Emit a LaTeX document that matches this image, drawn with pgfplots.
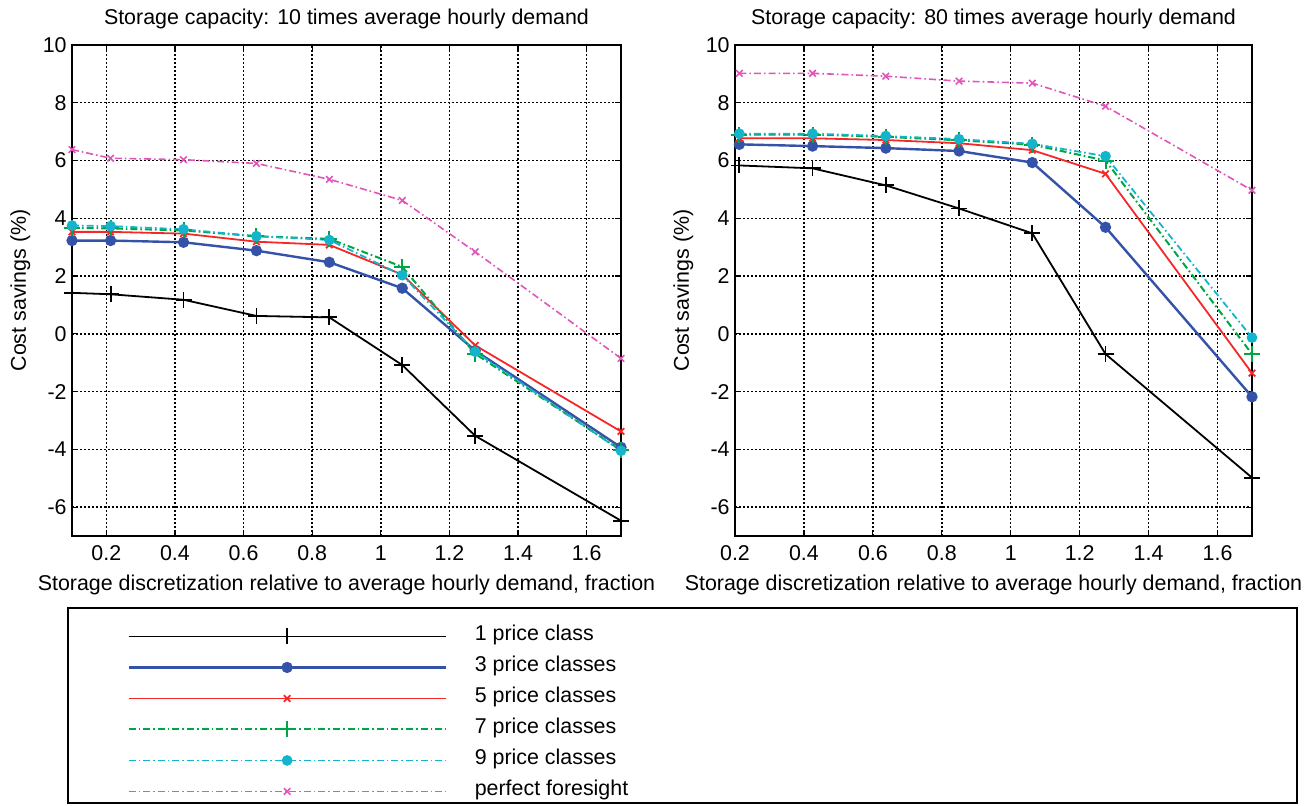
\documentclass[border=0pt]{standalone}
\usepackage{fontspec}
\setmainfont{Liberation Sans}
\usepackage{pgfplots}
\pgfplotsset{compat=1.18}

\definecolor{mblack}{RGB}{0,0,0}
\definecolor{mblue}{RGB}{52,82,168}
\definecolor{mred}{RGB}{245,40,40}
\definecolor{mgreen}{RGB}{0,165,70}
\definecolor{mcyan}{RGB}{20,180,205}
\definecolor{mmag}{RGB}{225,85,185}

\newcommand\ff{\fontsize{10.7}{12.5}\selectfont}

\pgfplotsset{
  costaxis/.style={
    scale only axis,
    height=245.5pt,
    anchor=south west,
    ymin=-7, ymax=10,
    ytick={-6,-4,...,10},
    xtick={0.2,0.4,...,1.6},
    grid=major,
    major grid style={black, line width=0.7pt, dash pattern=on 1pt off 1pt},
    axis line style={black, line width=0.8pt},
    tick style={black, line width=0.6pt},
    major tick length=3pt,
    tick align=inside,
    clip=false,
    /pgf/number format/assume math mode=true,
    ticklabel style={font=\ff},
    xticklabel style={anchor=base, inner sep=0pt, yshift=-12pt},
    yticklabel style={anchor=east, inner sep=0pt, xshift=-2.5pt},
    every axis title shift=0pt,
    title style={font=\ff, at={(0.5,1)}, anchor=base, yshift=10.5pt},
    xlabel style={font=\ff, at={(0.5,0)}, anchor=base, yshift=-27pt},
    ylabel style={font=\ff, anchor=base},
    xlabel={Storage discretization relative to average hourly demand, fraction},
    ylabel={Cost savings (\%)},
  },
  s1/.style={mblack, line width=0.9pt, mark=+, mark size=4pt},
  s3/.style={mblue, line width=1.2pt, mark=*, mark size=2.2pt},
  s5/.style={mred, line width=0.9pt, mark=x, mark size=2.3pt},
  s7/.style={mgreen, line width=1pt, dash pattern=on 3.5pt off 1.5pt on 0.8pt off 1.5pt, mark=+, mark size=4pt, mark options={solid}},
  s9/.style={mcyan, line width=0.9pt, dash pattern=on 3.5pt off 1.5pt on 0.8pt off 1.5pt, mark=*, mark size=2.2pt, mark options={solid}},
  spf/.style={mmag, line width=0.8pt, dash pattern=on 3.5pt off 1.5pt on 0.8pt off 1.5pt, mark=x, mark size=2.3pt, mark options={solid}},
}

\begin{document}
\begin{tikzpicture}
\useasboundingbox (0pt,0pt) rectangle (656pt,-402.5pt);

% left: storage capacity 10 x average hourly demand
\begin{axis}[costaxis,
  at={(36pt,-268pt)}, width=274.5pt,
  xmin=0.1, xmax=1.7,
  title={Storage capacity: 10 times average hourly demand},
  ylabel style={at={(axis description cs:-0.0838,0.5)}},
  legend image code/.code={\draw[mark repeat=2,mark phase=2] plot coordinates {(0pt,0pt) (79.25pt,0pt) (158.5pt,0pt)};},
  legend cell align=left,
  legend style={at={(axis description cs:0.0893,-0.1640)}, anchor=north west, draw=none, fill=none,
    font=\ff, column sep=14pt, row sep=0pt,
    nodes={inner sep=0pt, text height=10pt, text depth=5.5pt}},
]
\addplot[s1] coordinates {(0.1,1.42) (0.2125,1.37) (0.425,1.18) (0.6375,0.62) (0.85,0.57) (1.0625,-1.08) (1.275,-3.53) (1.7,-6.47)};
\addplot[s3] coordinates {(0.1,3.23) (0.2125,3.23) (0.425,3.17) (0.6375,2.88) (0.85,2.48) (1.0625,1.58) (1.275,-0.58) (1.7,-3.93)};
\addplot[s5] coordinates {(0.1,3.53) (0.2125,3.53) (0.425,3.47) (0.6375,3.19) (0.85,3.08) (1.0625,2.05) (1.275,-0.40) (1.7,-3.38)};
\addplot[s7] coordinates {(0.1,3.67) (0.2125,3.65) (0.425,3.58) (0.6375,3.38) (0.85,3.29) (1.0625,2.32) (1.275,-0.69) (1.7,-4.03)};
\addplot[s9] coordinates {(0.1,3.75) (0.2125,3.73) (0.425,3.62) (0.6375,3.38) (0.85,3.25) (1.0625,2.03) (1.275,-0.62) (1.7,-4.05)};
\addplot[spf] coordinates {(0.1,6.38) (0.2125,6.08) (0.425,6.03) (0.6375,5.90) (0.85,5.35) (1.0625,4.62) (1.275,2.84) (1.7,-0.85)};
\legend{1 price class, 3 price classes, 5 price classes, 7 price classes, 9 price classes, perfect foresight}
\end{axis}

% right: storage capacity 80 x average hourly demand
\begin{axis}[costaxis,
  at={(367.5pt,-268pt)}, width=258.5pt,
  xmin=0.2, xmax=1.7,
  title={Storage capacity: 80 times average hourly demand},
  ylabel style={at={(axis description cs:-0.0890,0.5)}},
]
\addplot[s1] coordinates {(0.2125,5.83) (0.425,5.73) (0.6375,5.14) (0.85,4.34) (1.0625,3.48) (1.275,-0.70) (1.7,-4.98)};
\addplot[s3] coordinates {(0.2125,6.56) (0.425,6.50) (0.6375,6.43) (0.85,6.33) (1.0625,5.93) (1.275,3.69) (1.7,-2.18)};
\addplot[s5] coordinates {(0.2125,6.77) (0.425,6.77) (0.6375,6.71) (0.85,6.60) (1.0625,6.36) (1.275,5.54) (1.7,-1.36)};
\addplot[s7] coordinates {(0.2125,6.90) (0.425,6.90) (0.6375,6.82) (0.85,6.70) (1.0625,6.55) (1.275,6.00) (1.7,-0.70)};
\addplot[s9] coordinates {(0.2125,6.93) (0.425,6.93) (0.6375,6.85) (0.85,6.74) (1.0625,6.58) (1.275,6.15) (1.7,-0.13)};
\addplot[spf] coordinates {(0.2125,9.02) (0.425,9.02) (0.6375,8.92) (0.85,8.75) (1.0625,8.68) (1.275,7.88) (1.7,4.97)};
\end{axis}

% frame round the legend
\draw[black, line width=0.75pt] (34pt,-304pt) rectangle (648.5pt,-401.5pt);
\end{tikzpicture}
\end{document}
